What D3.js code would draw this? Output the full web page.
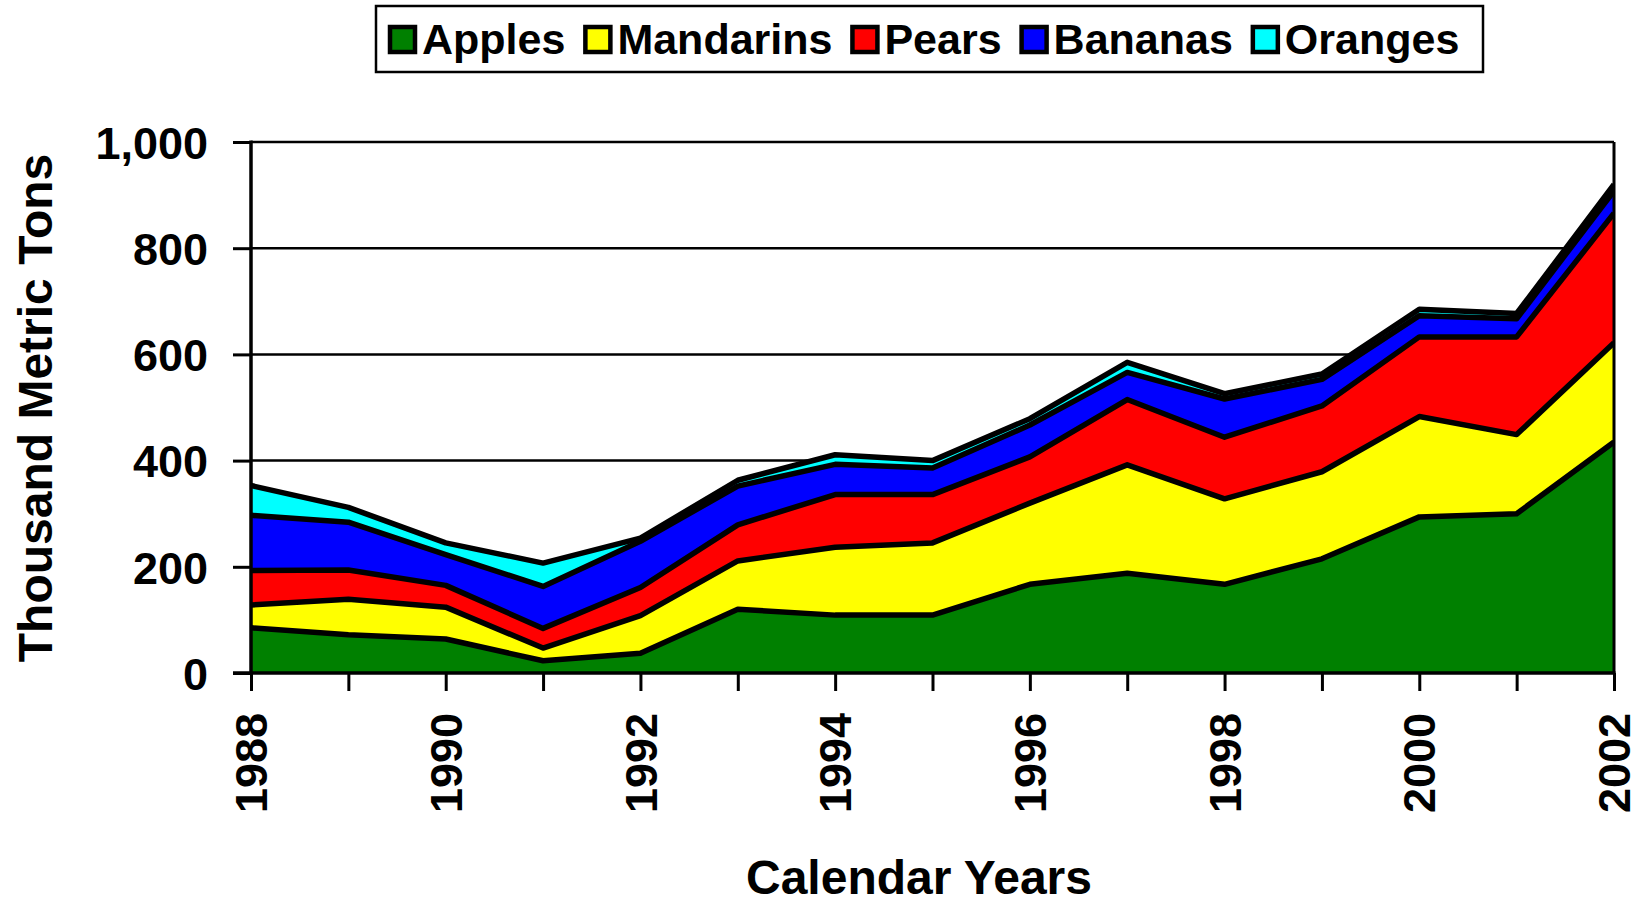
<!DOCTYPE html>
<meta charset="utf-8">
<head>
	<title>Fruit imports</title>
	<script type="text/javascript" src="https://cdn.jsdelivr.net/npm/d3@7"></script>
	<style>
		body { margin: 0; background: #fff; }
		text { font-family: "Liberation Sans", Arial, sans-serif; font-weight: bold; fill: #000; }
	</style>
</head>
<body>
	<div id="chart"></div>
	<script>
		// data (thousand metric tons)
		var years     = [1988, 1989, 1990, 1991, 1992, 1993, 1994, 1995, 1996, 1997, 1998, 1999, 2000, 2001, 2002];
		var apples    = [85, 72, 64, 23, 37, 120, 109, 109, 167, 188, 167, 215, 294, 300, 435];
		var mandarins = [43, 67, 60, 24, 71, 91, 128, 136, 153, 204, 161, 164, 189, 149, 187];
		var pears     = [65, 55, 41, 37, 53, 68, 99, 91, 87, 123, 116, 124, 150, 184, 244];
		var bananas   = [104, 90, 58, 79, 87, 73, 57, 50, 60, 51, 72, 50, 40, 34, 42];
		var oranges   = [56, 28, 22, 44, 6, 11, 18, 14, 12, 19, 10, 10, 12, 10, 12];
		var seriesNames = ["Apples", "Mandarins", "Pears", "Bananas", "Oranges"];
		var seriesColors = ["#008000", "#ffff00", "#ff0000", "#0000ff", "#00ffff"];
		var yTicks = [0, 200, 400, 600, 800, 1000];
		var xLabelYears = [1988, 1990, 1992, 1994, 1996, 1998, 2000, 2002];

		var w = 1638, h = 900;
		var pLeft = 251, pRight = 1614, pTop = 142, pBottom = 673;

		var svg = d3.select("#chart").append("svg")
			.attr("width", w).attr("height", h);

		var x = d3.scaleLinear().domain([1988, 2002]).range([pLeft, pRight]);
		var y = d3.scaleLinear().domain([0, 1000]).range([pBottom, pTop]);

		// table for the stack
		var table = years.map(function (yr, i) {
			return { year: yr, Apples: apples[i], Mandarins: mandarins[i], Pears: pears[i], Bananas: bananas[i], Oranges: oranges[i] };
		});
		var stacked = d3.stack().keys(seriesNames)(table);

		// gridlines
		svg.append("g")
			.selectAll("line")
			.data(yTicks.slice(1))
			.enter().append("line")
			.attr("x1", pLeft).attr("x2", pRight)
			.attr("y1", function (d) { return y(d); })
			.attr("y2", function (d) { return y(d); })
			.style("stroke", "#000").style("stroke-width", 2.5);

		svg.append("clipPath").attr("id", "plotclip")
			.append("rect").attr("x", pLeft).attr("y", pTop - 10)
			.attr("width", pRight - pLeft).attr("height", pBottom - pTop + 10);

		var area = d3.area()
			.x(function (d) { return x(d.data.year); })
			.y0(function (d) { return y(d[0]); })
			.y1(function (d) { return y(d[1]); });

		var topLine = d3.line()
			.x(function (d) { return x(d.data.year); })
			.y(function (d) { return y(d[1]); });

		var plot = svg.append("g").attr("clip-path", "url(#plotclip)");

		plot.selectAll("path.area")
			.data(stacked)
			.enter().append("path")
			.attr("class", "area")
			.attr("d", area)
			.style("fill", function (d, i) { return seriesColors[i]; });

		plot.selectAll("path.edge")
			.data(stacked)
			.enter().append("path")
			.attr("class", "edge")
			.attr("d", topLine)
			.style("fill", "none")
			.style("stroke", "#000")
			.style("stroke-width", 5.5)
			.style("stroke-linejoin", "round");

		// frame: right side
		svg.append("line")
			.attr("x1", pRight).attr("x2", pRight).attr("y1", pTop).attr("y2", pBottom)
			.style("stroke", "#000").style("stroke-width", 3);

		// y axis
		var yAxis = d3.axisLeft(y).tickValues(yTicks).tickSize(18).tickPadding(25)
			.tickFormat(d3.format(","));
		var gY = svg.append("g").attr("transform", "translate(" + pLeft + ",0)").call(yAxis);
		gY.select(".domain").remove();
		gY.selectAll("line").style("stroke", "#000").style("stroke-width", 3);
		gY.selectAll("text").style("font-size", "45px").attr("dy", "0.36em");
		gY.append("line").attr("x1", 0).attr("x2", 0).attr("y1", pTop - 1.5).attr("y2", pBottom + 1.5)
			.style("stroke", "#000").style("stroke-width", 3.5);

		// x axis
		var xAxis = d3.axisBottom(x).tickValues(years).tickSize(18).tickFormat("");
		var gX = svg.append("g").attr("transform", "translate(0," + pBottom + ")").call(xAxis);
		gX.select(".domain").remove();
		gX.selectAll("line").style("stroke", "#000").style("stroke-width", 3);
		gX.append("line").attr("x1", pLeft - 18).attr("x2", pRight + 1.5).attr("y1", 0).attr("y2", 0)
			.style("stroke", "#000").style("stroke-width", 3.5);

		svg.append("g").selectAll("text")
			.data(xLabelYears)
			.enter().append("text")
			.attr("transform", function (d) { return "translate(" + x(d) + "," + (pBottom + 40) + ") rotate(-90)"; })
			.attr("text-anchor", "end")
			.attr("dy", "0.36em")
			.style("font-size", "45px")
			.text(function (d) { return d; });

		// axis titles
		svg.append("text")
			.attr("transform", "translate(52,408) rotate(-90)")
			.attr("text-anchor", "middle")
			.style("font-size", "48px")
			.text("Thousand Metric Tons");

		svg.append("text")
			.attr("x", 919).attr("y", 894)
			.attr("text-anchor", "middle")
			.style("font-size", "48px")
			.text("Calendar Years");

		// legend
		var legend = svg.append("g");
		legend.append("rect")
			.attr("x", 376).attr("y", 6).attr("width", 1107).attr("height", 66)
			.style("fill", "#fff").style("stroke", "#000").style("stroke-width", 2.5);

		var lx = 388;
		seriesNames.forEach(function (name, i) {
			legend.append("rect")
				.attr("x", lx + 2).attr("y", 27).attr("width", 25).attr("height", 25)
				.style("fill", seriesColors[i]).style("stroke", "#000").style("stroke-width", 4.5);
			var t = legend.append("text")
				.attr("x", lx + 34).attr("y", 54)
				.style("font-size", "43px")
				.text(name);
			lx += 34 + t.node().getComputedTextLength() + 18;
		});
	</script>
</body>
</html>
